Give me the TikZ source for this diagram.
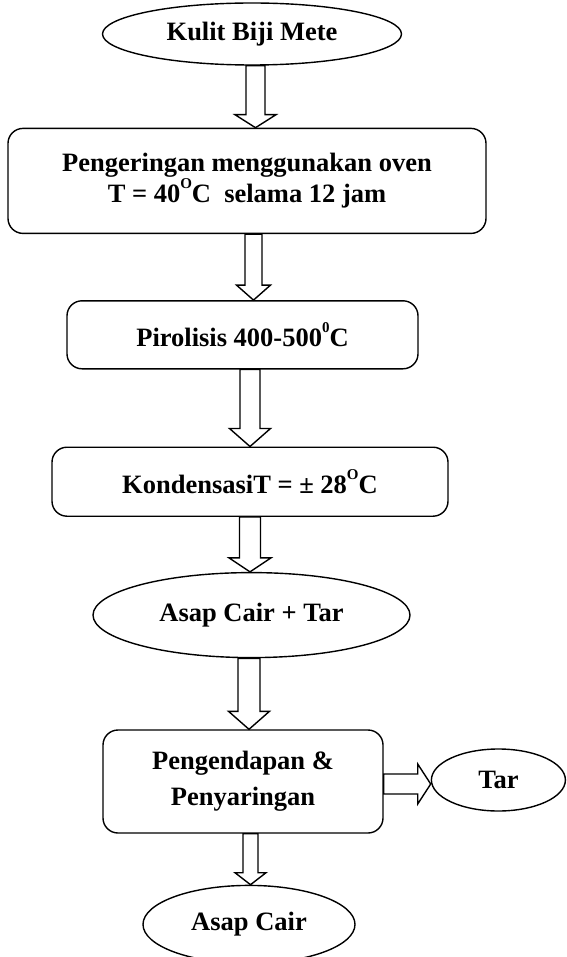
\documentclass[tikz,border=0pt]{standalone}
\usepackage{fontspec}
\setmainfont{Liberation Serif}
\usetikzlibrary{shapes,positioning,calc}

% small raised letter for degrees
\newcommand{\atas}[1]{\raisebox{0.55em}{\fontsize{15}{15}\selectfont #1}}

\begin{document}
\begin{tikzpicture}[x=1pt,y=-1pt,
    font=\bfseries\fontsize{26.5}{31}\selectfont,
    line width=1.4pt,
    proses/.style={rectangle, rounded corners=15pt, draw, align=center, inner sep=0pt},
    bahan/.style={ellipse, draw, inner sep=0pt},
    %hollow arrows: shaft half width, head half width, head length
    blockdown/.style n args={3}{to path={let \p1=(\tikztostart), \p2=(\tikztotarget) in
        (\x1-#1,\y1) -- (\x1-#1,\y2+#3) -- (\x1-#2,\y2+#3) -- (\x1,\y2)
        -- (\x1+#2,\y2+#3) -- (\x1+#1,\y2+#3) -- (\x1+#1,\y1) -- cycle}},
    blockright/.style n args={3}{to path={let \p1=(\tikztostart), \p2=(\tikztotarget) in
        (\x1,\y1+#1) -- (\x2-#3,\y1+#1) -- (\x2-#3,\y1+#2) -- (\x2,\y1)
        -- (\x2-#3,\y1-#2) -- (\x2-#3,\y1-#1) -- (\x1,\y1-#1) -- cycle}}
    ]

\useasboundingbox (0,0) rectangle (566,957);

\node[bahan, minimum width=299pt, minimum height=62pt] (kulit) at (252,34) {Kulit Biji Mete};
\node[proses, minimum width=478pt, minimum height=105pt, below=62pt of kulit, xshift=-5pt] (pengeringan)
    {Pengeringan menggunakan oven\\T = 40\atas{O}C\ \ selama 12 jam};
\node[proses, minimum width=351pt, minimum height=68pt, below=66pt of pengeringan, xshift=-4.5pt] (pirolisis)
    {Pirolisis 400-500\atas{0}C};
\node[proses, minimum width=396pt, minimum height=69pt, below=77pt of pirolisis, xshift=7.5pt] (kondensasi)
    {KondensasiT = ± 28\atas{O}C};
\node[bahan, minimum width=317pt, minimum height=85pt, below=55pt of kondensasi, xshift=1.5pt] (asaptar) {Asap Cair + Tar};
\node[proses, minimum width=280pt, minimum height=103pt, below=71pt of asaptar, xshift=-8.5pt] (pengendapan)
    {Pengendapan \&\\[5pt]Penyaringan};
\node[bahan, minimum width=134pt, minimum height=62pt, right=47pt of pengendapan, yshift=1.5pt] (tar) {Tar};
\node[bahan, minimum width=212pt, minimum height=78pt, below=51pt of pengendapan, xshift=6pt] (asapcair) {Asap Cair};

\draw[blockdown={9.5pt}{20.5pt}{13pt}] ([xshift=3.5pt]kulit.south) to (pengeringan.north);
\draw[blockdown={8.5pt}{17pt}{15pt}] ([xshift=6.5pt]pengeringan.south) to (pirolisis.north);
\draw[blockdown={10pt}{20.5pt}{18pt}] ([xshift=7.5pt]pirolisis.south) to (kondensasi.north);
\draw[blockdown={10.5pt}{21pt}{14pt}] (kondensasi.south) to (asaptar.north);
\draw[blockdown={11pt}{20.5pt}{18pt}] ([xshift=-2.5pt]asaptar.south) to (pengendapan.north);
\draw[blockright={10pt}{20pt}{13pt}] ([yshift=-2.5pt]pengendapan.east) to (tar.west);
\draw[blockdown={7.5pt}{15.5pt}{12pt}] ([xshift=7.5pt]pengendapan.south) to (asapcair.north);

\end{tikzpicture}
\end{document}
